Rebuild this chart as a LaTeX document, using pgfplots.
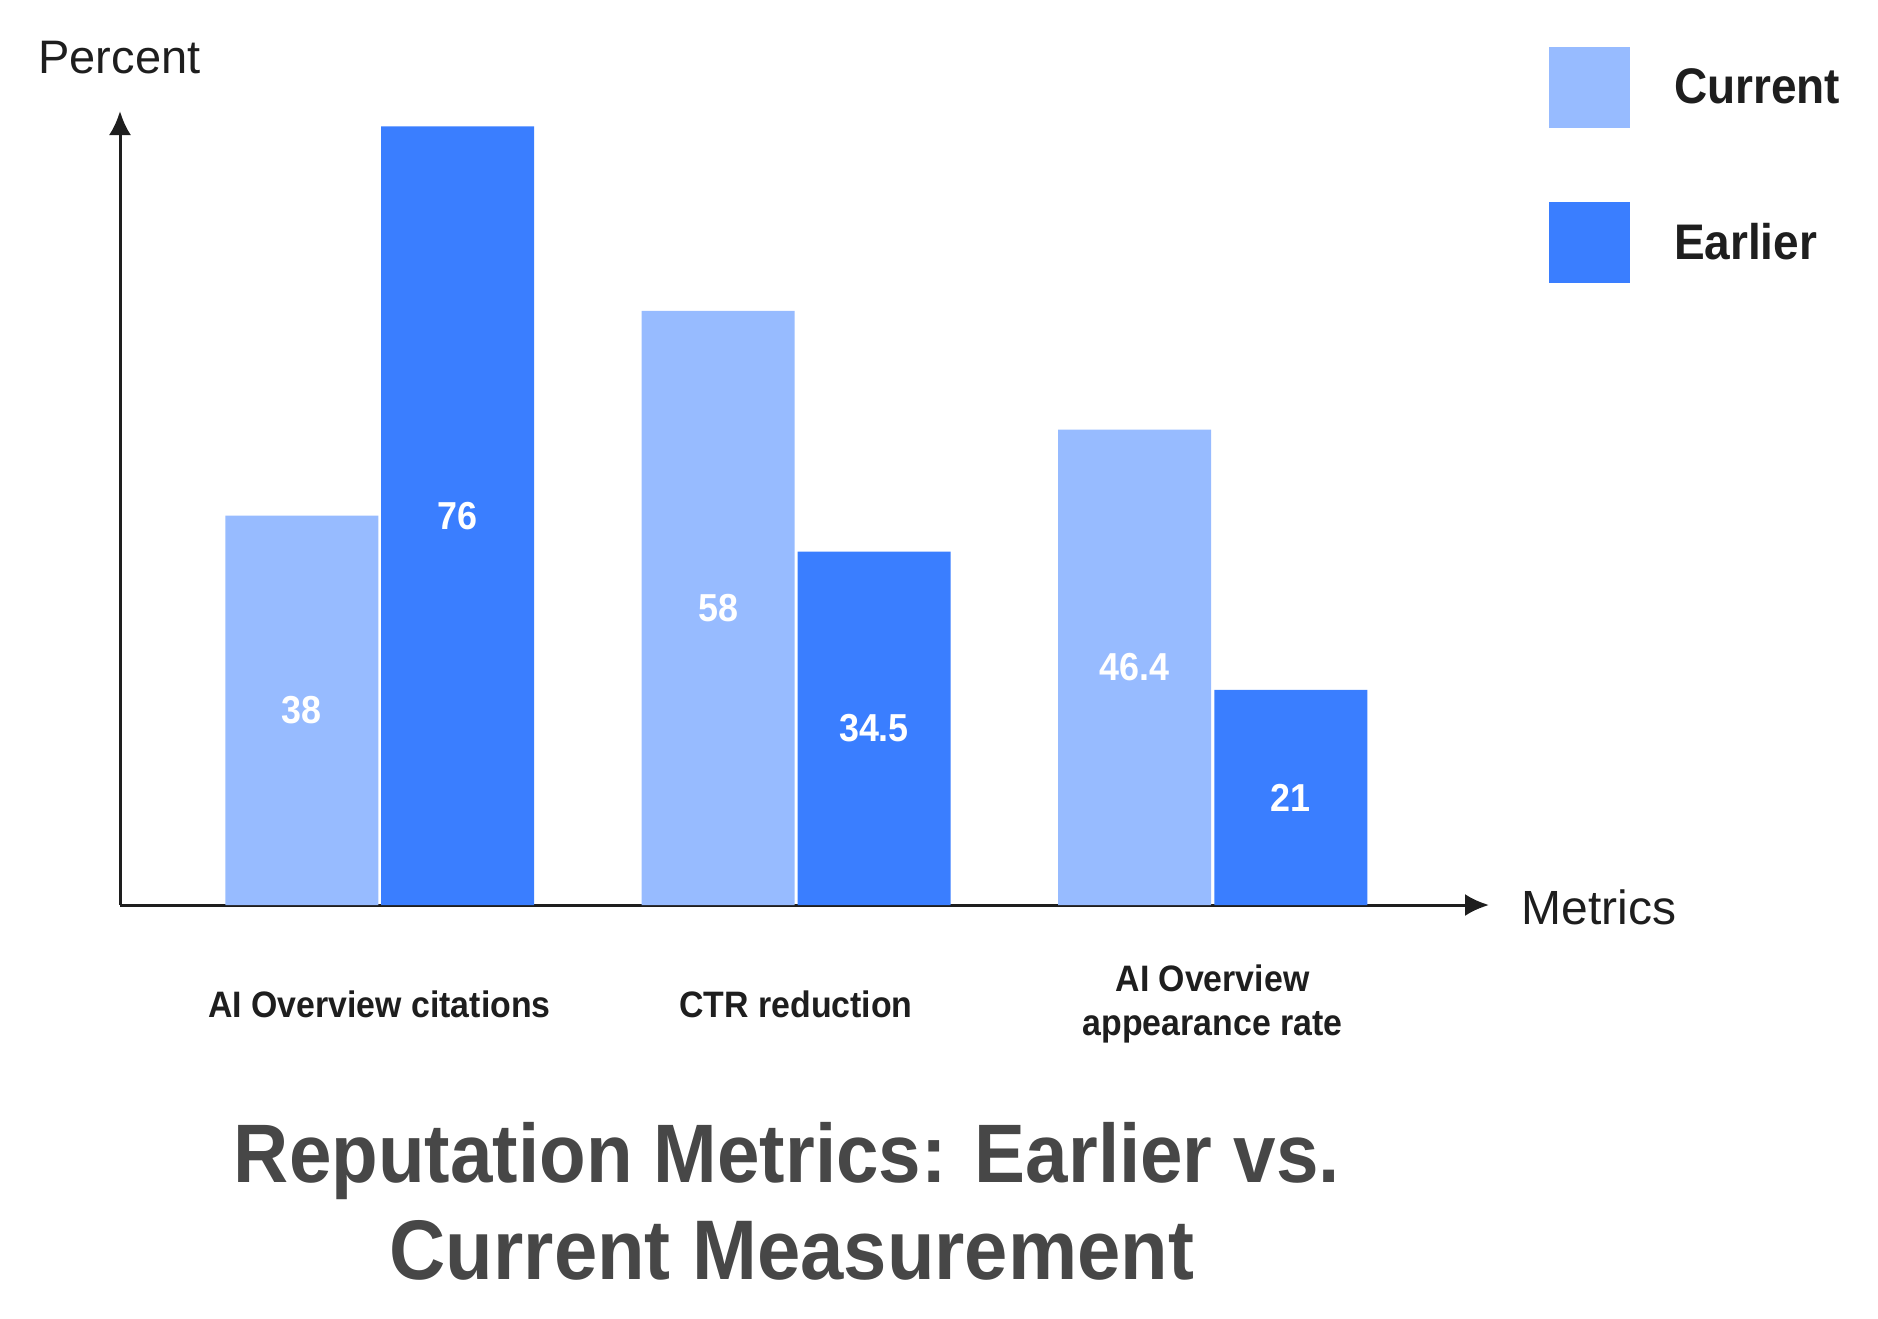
\documentclass[border=0pt]{standalone}
\usepackage{fontspec}
\setmainfont{Liberation Sans}
\newfontfamily\bfn{Liberation Sans}[FakeStretch=0.92]
\usepackage{pgfplots}
\pgfplotsset{compat=1.18}
\usetikzlibrary{arrows.meta}
\definecolor{lightc}{HTML}{97BBFF}
\definecolor{darkc}{HTML}{3A7EFF}
\definecolor{txtc}{HTML}{1E1E1E}
\definecolor{titlec}{HTML}{474747}
\begin{document}
\begin{tikzpicture}
\path[use as bounding box] (0pt,0pt) rectangle (939pt,-659pt);
\begin{axis}[
  at={(60pt,-452.5pt)}, anchor=south west,
  scale only axis, width=684.5pt, height=397pt,
  xmin=120, xmax=1489, ymin=0, ymax=77.5,
  clip=false,
  axis lines=left,
  x axis line style={line width=1.5pt, draw=txtc, -{Latex[length=12pt,width=11pt]}},
  y axis line style={line width=1.5pt, draw=txtc, -{Latex[length=12pt,width=11pt]}},
  ytick=\empty,
  xtick={379.5,796,1212.5},
  xticklabels={AI Overview citations, CTR reduction, {AI Overview\\appearance rate}},
  xticklabel style={anchor=center, yshift=-49.5pt, align=center,
    font=\bfn\bfseries\fontsize{18.4}{22}\selectfont, text=txtc},
  major tick length=0pt,
  /pgf/number format/assume math mode=true,
  ybar, bar width=153,
  nodes near coords,
  visualization depends on={rawy \as \rawy},
  nodes near coords style={anchor=center, text=white,
    font=\bfn\bfseries\fontsize{19.5}{22}\selectfont,
    shift={(axis direction cs:0,-\rawy/2)}},
  legend style={at={(axis cs:1549,83.76)}, anchor=north west, draw=none, fill=none,
    inner sep=0pt, outer sep=0pt, row sep=37pt,
    font=\bfn\bfseries\fontsize{25}{30}\selectfont,
    /tikz/every odd column/.append style={column sep=22pt},
    nodes={inner sep=0pt, anchor=west, text=txtc}},
  sq/.style={legend image code/.code={\fill[##1] (0pt,-20.25pt) rectangle (40.5pt,20.25pt);}},
]
\addplot[fill=lightc, draw=none, bar shift=0pt, sq] coordinates {(301.75,38) (718,58) (1134.5,46.4)};
\addlegendentry{Current}
\addplot[fill=darkc, draw=none, bar shift=0pt, sq] coordinates {(457.5,76) (874,34.5) (1290.75,21)};
\addlegendentry{Earlier}
\end{axis}
\node[font=\fontsize{23.5}{28}\selectfont, text=txtc, anchor=center] at (59.75pt,-29pt) {Percent};
\node[font=\fontsize{24}{28}\selectfont, text=txtc, anchor=center] at (799.5pt,-453.5pt) {Metrics};
\node[font=\bfn\bfseries\fontsize{41.5}{48}\selectfont, text=titlec, anchor=base] at (393.5pt,-591pt) {Reputation Metrics: Earlier vs.};
\node[font=\bfn\bfseries\fontsize{42.3}{48}\selectfont, text=titlec, anchor=base] at (396pt,-639.5pt) {Current Measurement};
\end{tikzpicture}
\end{document}
